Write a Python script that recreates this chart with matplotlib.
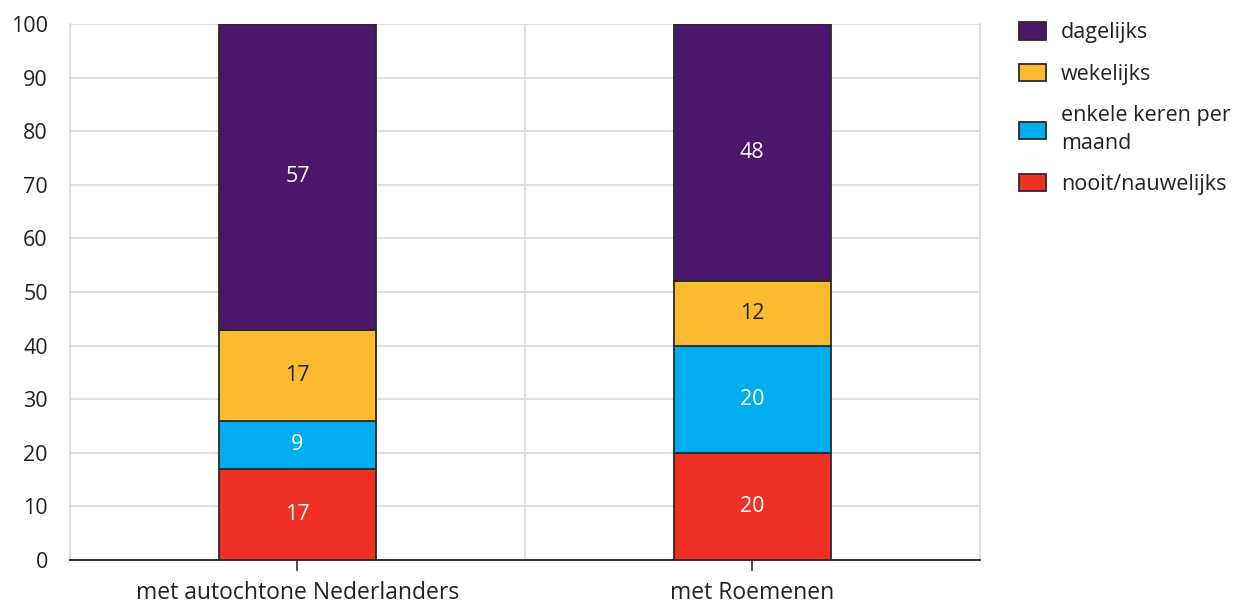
import matplotlib.pyplot as plt
import numpy as np

plt.rcParams['font.family'] = ['Open Sans', 'DejaVu Sans']

groepen = ['met autochtone Nederlanders', 'met Roemenen']
categorieen = ['nooit/nauwelijks', 'enkele keren per\nmaand', 'wekelijks', 'dagelijks']
nooit = [17, 20]
enkele = [9, 20]
wekelijks = [17, 12]
dagelijks = [57, 48]

kleuren = ['#ee3124', '#00aeef', '#fbba2f', '#4a176a']
tekstkleur = ['white', 'white', '#222222', 'white']

fig = plt.figure(figsize=(12.4, 6.03), dpi=100)
ax = fig.add_axes([0.0565, 0.0713, 0.7335, 0.8889])

x = np.arange(len(groepen))
onder = np.zeros(len(groepen))
balken = []
for waarden, kleur, tk in zip([nooit, enkele, wekelijks, dagelijks], kleuren, tekstkleur):
    b = ax.bar(x, waarden, 0.345, bottom=onder, color=kleur, edgecolor='#2a2a2a',
               linewidth=1.3, zorder=3)
    balken.append(b)
    for xi, v, o in zip(x, waarden, onder):
        ax.text(xi, o + v / 2, str(v), ha='center', va='center', color=tk,
                fontsize=15.5, zorder=4)
    onder += waarden

ax.set_xlim(-0.5, 1.5)
ax.set_ylim(0, 100)
ax.set_yticks(np.arange(0, 101, 10))
ax.set_xticks(x)
ax.set_xticklabels(groepen, fontsize=16.5, color='#222222')
ax.tick_params(axis='y', length=0, labelsize=15.5, colors='#222222', pad=16)
ax.tick_params(axis='x', length=8, width=1.2, color='#333333', pad=7)
ax.set_xticks([0.5], minor=True)
ax.tick_params(axis='x', which='minor', length=0)
ax.grid(axis='y', color='#d9d9d9', linewidth=1.2, zorder=0)
ax.grid(axis='x', which='minor', color='#d9d9d9', linewidth=1.2, zorder=0)
for kant in ['left', 'right', 'top']:
    ax.spines[kant].set_color('#d9d9d9')
    ax.spines[kant].set_linewidth(1.2)
ax.spines['top'].set_visible(False)
ax.spines['bottom'].set_color('#222222')
ax.spines['bottom'].set_linewidth(1.3)

leg = fig.legend([balken[3], balken[2], balken[1], balken[0]],
                 ['dagelijks', 'wekelijks', categorieen[1], categorieen[0]],
                 loc='upper left', bbox_to_anchor=(0.806, 0.995), frameon=False,
                 fontsize=15.5, handlelength=1.25, handleheight=0.85, handletextpad=0.7,
                 labelspacing=0.95, labelcolor='#222222')
for t in leg.get_texts():
    t.set_linespacing(1.4)

fig.savefig('out.png', dpi=100)
